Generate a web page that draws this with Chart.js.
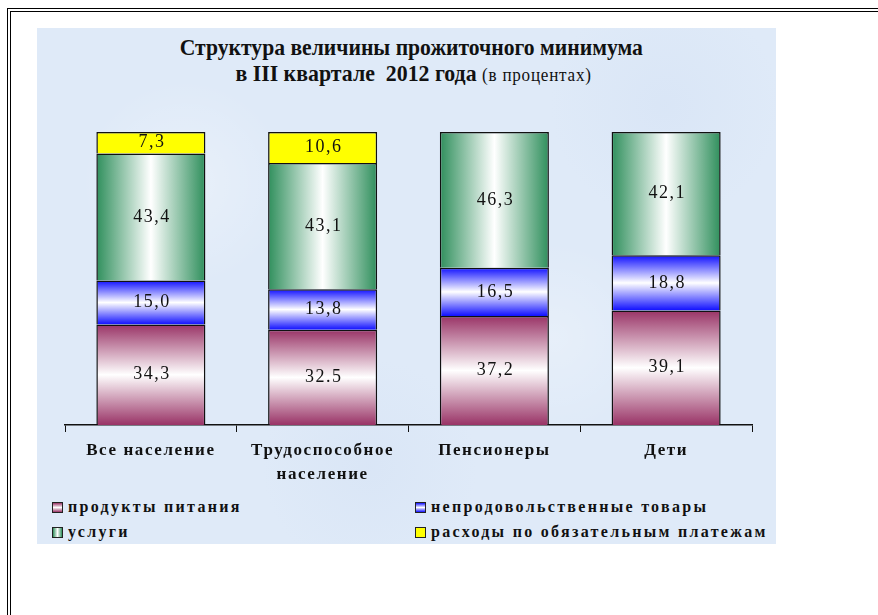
<!DOCTYPE html>
<html lang="ru">
<head>
<meta charset="utf-8">
<script src="https://cdn.jsdelivr.net/npm/chart.js@4"></script>
<style>
    html, body { margin: 0; padding: 0; background: #fff; }
    body { width: 878px; height: 615px; position: relative; overflow: hidden; font-family: "Liberation Serif", "Times New Roman", serif; }
    .frame1 { position: absolute; left: 7px; top: 8px; right: -5px; bottom: -5px; border-top: 1.5px solid #000; border-left: 1.5px solid #000; }
    .frame2 { position: absolute; left: 10px; top: 11px; right: -5px; bottom: -5px; border-top: 1.5px solid #000; border-left: 1.5px solid #000; }
    .panel { position: absolute; left: 37px; top: 28px; width: 739px; height: 516px;
        background-color: #dfeaf8;
        background-image:
            radial-gradient(circle at 20% 30%, rgba(255,255,255,0.3), rgba(255,255,255,0) 15%),
            radial-gradient(circle at 70% 60%, rgba(255,255,255,0.25), rgba(255,255,255,0) 16%),
            radial-gradient(circle at 45% 85%, rgba(205,220,242,0.3), rgba(205,220,242,0) 18%),
            radial-gradient(circle at 85% 15%, rgba(205,220,242,0.3), rgba(205,220,242,0) 15%);
    }
    .title { position: absolute; left: 42px; width: 739px; text-align: center; color: #111; white-space: nowrap; font-family: "Liberation Serif", serif; }
    .title span.in { display: inline-block; transform-origin: center; }
    .t1 { top: 35px; font-size: 23px; font-weight: bold; }
    .t1 span.in { transform: scaleX(0.94); }
    .t2 { top: 61px; font-size: 23px; font-weight: bold; left: 44px; }
    .t2 span.in { transform: scaleX(0.95); }
    .t2 .sub { font-weight: normal; font-size: 18px; letter-spacing: 0.8px; }
    #chart { position: absolute; left: 37px; top: 100px; }
    .legend-item { position: absolute; font-family: "Liberation Serif", serif; font-size: 16px; font-weight: bold; letter-spacing: 2.3px; color: #111; white-space: nowrap; line-height: 18px; }
    .legend-item .sw { display: inline-block; width: 9px; height: 9px; border: 1.5px solid #222; margin-right: 5px; vertical-align: -1px; }
</style>
</head>
<body>
<div class="frame1"></div>
<div class="frame2"></div>
<div class="panel"></div>
<div class="title t1"><span class="in">Структура величины прожиточного минимума</span></div>
<div class="title t2"><span class="in">в III квартале&nbsp; 2012 года <span class="sub">(в процентах)</span></span></div>
<canvas id="chart" width="739" height="390"></canvas>
<div id="legend"></div>

<script>
// categories (multi-line label for the second one)
const categories = ['Все население', ['Трудоспособное', 'население'], 'Пенсионеры', 'Дети'];

// series values, percent
const food = [34.3, 32.5, 37.2, 39.1];
const nonFood = [15.0, 13.8, 16.5, 18.8];
const services = [43.4, 43.1, 46.3, 42.1];
const payments = [7.3, 10.6, null, null];

const seriesNames = ['продукты питания', 'непродовольственные товары', 'услуги', 'расходы по обязательным платежам'];

const BAR_PCT = 0.635;
const series = [food, nonFood, services, payments];

// gradient per stacked segment, positions taken from the chart's scales
function segmentFill(kind) {
    return (c) => {
        const chart = c.chart;
        if (c.type !== 'data' || !chart.chartArea) return '#ccc';
        const xs = chart.scales.x, ys = chart.scales.y;
        const i = c.dataIndex, ds = c.datasetIndex;
        let start = 0;
        for (let k = 0; k < ds; k++) start += series[k][i] || 0;
        const end = start + (series[ds][i] || 0);
        const g = chart.ctx;
        if (kind === 'h') {
            const cx = xs.getPixelForValue(i);
            const half = (xs.getPixelForValue(1) - xs.getPixelForValue(0)) * BAR_PCT / 2;
            const grad = g.createLinearGradient(cx - half, 0, cx + half, 0);
            grad.addColorStop(0, '#2f8f5c');
            grad.addColorStop(0.5, '#ffffff');
            grad.addColorStop(1, '#2f8f5c');
            return grad;
        }
        const y0 = ys.getPixelForValue(end), y1 = ys.getPixelForValue(start);
        const grad = g.createLinearGradient(0, y0, 0, y1);
        const col = kind === 'food' ? '#993366' : '#1010ff';
        grad.addColorStop(0, col);
        grad.addColorStop(0.5, '#ffffff');
        grad.addColorStop(1, col);
        return grad;
    };
}

const fills = [segmentFill('food'), segmentFill('blue'), segmentFill('h'), '#ffff00'];

// value labels in the middle of each segment
const valueLabels = {
    id: 'valueLabels',
    afterDatasetsDraw(chart) {
        const ctx = chart.ctx;
        ctx.save();
        ctx.font = '18px "Liberation Serif"';
        ctx.letterSpacing = '1.5px';
        ctx.fillStyle = '#111';
        ctx.textAlign = 'center';
        ctx.textBaseline = 'middle';
        chart.data.datasets.forEach((ds, di) => {
            chart.getDatasetMeta(di).data.forEach((el, i) => {
                const v = ds.data[i];
                if (v == null) return;
                const { x, y, base } = el.getProps(['x', 'y', 'base'], true);
                let txt = v.toFixed(1).replace('.', ',');
                if (di === 0 && i === 1) txt = v.toFixed(1); // source shows "32.5" with a dot
                ctx.fillText(txt, x + 1, (y + base) / 2);
            });
        });
        ctx.restore();
    }
};

// wider letter spacing for axis labels
const spacing = {
    id: 'spacing',
    beforeDraw(chart) { chart.ctx.letterSpacing = '1.6px'; },
    afterDraw(chart) { chart.ctx.letterSpacing = '0px'; }
};

function drawChart() {
    new Chart(document.getElementById('chart'), {
        type: 'bar',
        data: {
            labels: categories,
            datasets: series.map((d, k) => ({
                label: seriesNames[k],
                data: d,
                backgroundColor: fills[k],
                borderColor: '#111',
                borderWidth: 1.5,
                categoryPercentage: 1,
                barPercentage: BAR_PCT
            }))
        },
        options: {
            responsive: false,
            animation: false,
            devicePixelRatio: 1,
            layout: { padding: { left: 28, right: 24, top: 32, bottom: 0 } },
            plugins: { legend: { display: false }, tooltip: { enabled: false }, title: { display: false } },
            scales: {
                x: {
                    stacked: true,
                    afterFit: (s) => { s.height = 65; },
                    grid: { drawOnChartArea: false, drawTicks: true, tickLength: 7, color: '#111', offset: true },
                    border: { color: '#111', width: 1.5 },
                    ticks: { color: '#111', padding: 6, font: { family: '"Liberation Serif"', size: 17, weight: 'bold', lineHeight: 1.45 } }
                },
                y: { stacked: true, display: false, min: 0, max: 100 }
            }
        },
        plugins: [valueLabels, spacing]
    });
}

Promise.all([
    document.fonts.load('bold 17px "Liberation Serif"'),
    document.fonts.load('18px "Liberation Serif"')
]).then(drawChart, drawChart);

// legend, two columns like the source
const swatches = [
    'linear-gradient(to bottom, #993366, #fff 50%, #993366)',
    'linear-gradient(to bottom, #1010ff, #fff 50%, #1010ff)',
    'linear-gradient(to right, #2f8f5c, #fff 50%, #2f8f5c)',
    '#ffff00'
];
const legendPos = [[52, 498], [415, 498], [52, 523], [415, 523]];
const legendEl = document.getElementById('legend');
seriesNames.forEach((name, k) => {
    const item = document.createElement('div');
    item.className = 'legend-item';
    item.style.left = legendPos[k][0] + 'px';
    item.style.top = legendPos[k][1] + 'px';
    const sw = document.createElement('span');
    sw.className = 'sw';
    sw.style.background = swatches[k];
    item.appendChild(sw);
    item.appendChild(document.createTextNode(name));
    legendEl.appendChild(item);
});
</script>
</body>
</html>
